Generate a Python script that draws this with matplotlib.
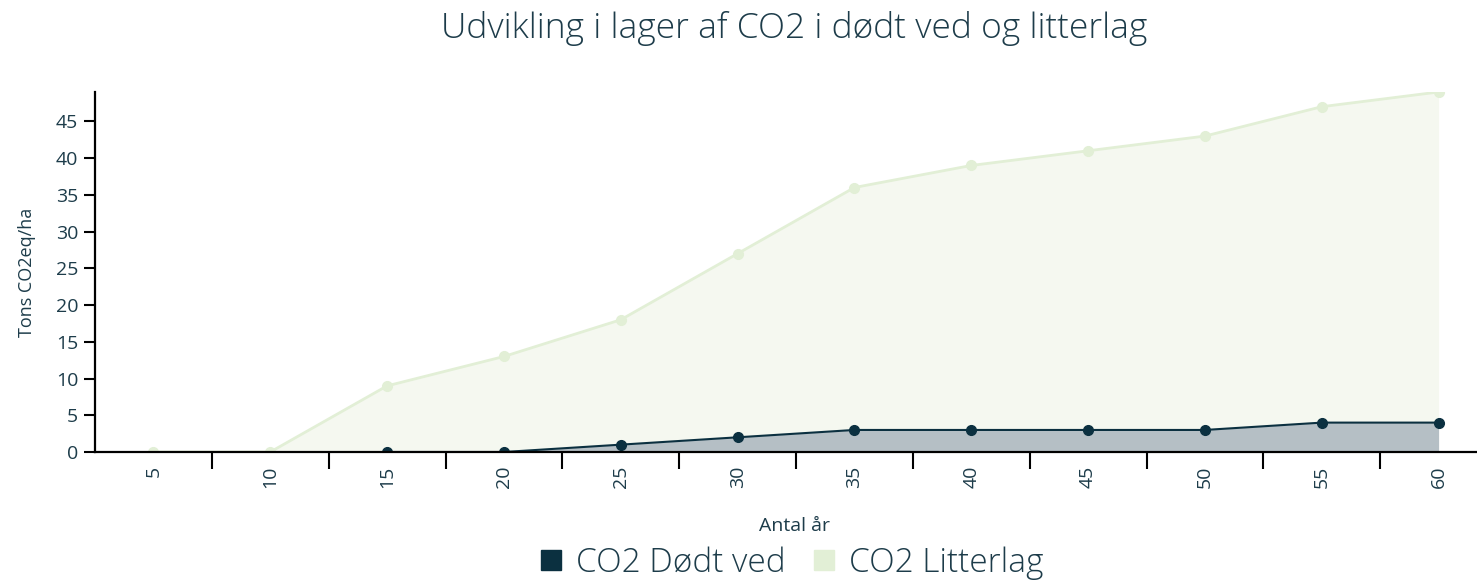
import numpy as np
import matplotlib.pyplot as plt
from matplotlib.lines import Line2D

# ==========================[Data]=============================
years = ['5', '10', '15', '20', '25', '30', '35', '40', '45', '50', '55', '60']
dodt_ved = [np.nan, np.nan, 0, 0, 1, 2, 3, 3, 3, 3, 4, 4]
litterlag = [0, 0, 9, 13, 18, 27, 36, 39, 41, 43, 47, 49]

dark = '#0b3040'
green = '#e2efd6'
text_col = '#1d3c4a'

plt.rcParams['font.family'] = ['Open Sans', 'DejaVu Sans']

fig = plt.figure(figsize=(14.77, 5.8), dpi=100)
ax = fig.add_axes([95 / 1477, 128 / 580, 1402 / 1477, 360 / 580])

x = np.arange(len(years))
lit = np.array(litterlag, dtype=float)
ded = np.array(dodt_ved, dtype=float)

# litterlag
ax.fill_between(x, 0, lit, color='#f5f8f0', lw=0, zorder=1)
ax.plot(x, lit, color=green, lw=2, marker='o', ms=7, zorder=2)

# dødt ved
ok = ~np.isnan(ded)
ax.fill_between(x[ok], 0, ded[ok], color='#b5bfc5', lw=0, zorder=3)
ax.plot(x[ok], ded[ok], color=dark, lw=1.5, marker='o', ms=7, zorder=4)

ax.set_xlim(-0.5, len(years) - 0.5)
ax.set_ylim(0, 49)

for s in ['top', 'right']:
    ax.spines[s].set_visible(False)
for s in ['left', 'bottom']:
    ax.spines[s].set_linewidth(1.6)
    ax.spines[s].set_color('black')
    ax.spines[s].set_zorder(5)

ax.set_yticks(np.arange(0, 46, 5))
ax.tick_params(axis='y', length=8, width=1.5, labelsize=14, labelcolor=text_col, pad=4)
ax.set_xticks(x)
ax.set_xticklabels(years, rotation=90)
ax.tick_params(axis='x', which='major', length=0, labelsize=14, labelcolor=text_col, pad=10)
ax.set_xticks(x[:-1] + 0.5, minor=True)
ax.tick_params(axis='x', which='minor', length=12, width=1.5, direction='out')

ax.set_ylabel('Tons CO2eq/ha', fontsize=13, color=text_col, labelpad=14)
fig.text(794 / 1477, 1 - 526 / 580, 'Antal år', fontsize=14, color=text_col, ha='center', va='center')
fig.text(794 / 1477, 1 - 28 / 580, 'Udvikling i lager af CO2 i dødt ved og litterlag',
         fontsize=25.5, color=text_col, ha='center', va='center', fontweight='light')

handles = [Line2D([], [], ls='', marker='s', ms=14, color=dark),
           Line2D([], [], ls='', marker='s', ms=14, color=green)]
fig.legend(handles, ['CO2 Dødt ved', 'CO2 Litterlag'], loc='center',
           bbox_to_anchor=(790 / 1477, 1 - 563 / 580), ncol=2, frameon=False,
           prop={'size': 24, 'weight': 'light'}, labelcolor=text_col,
           handletextpad=0.3, columnspacing=0.7, handlelength=0.9)

plt.savefig('out.png', dpi=100)
